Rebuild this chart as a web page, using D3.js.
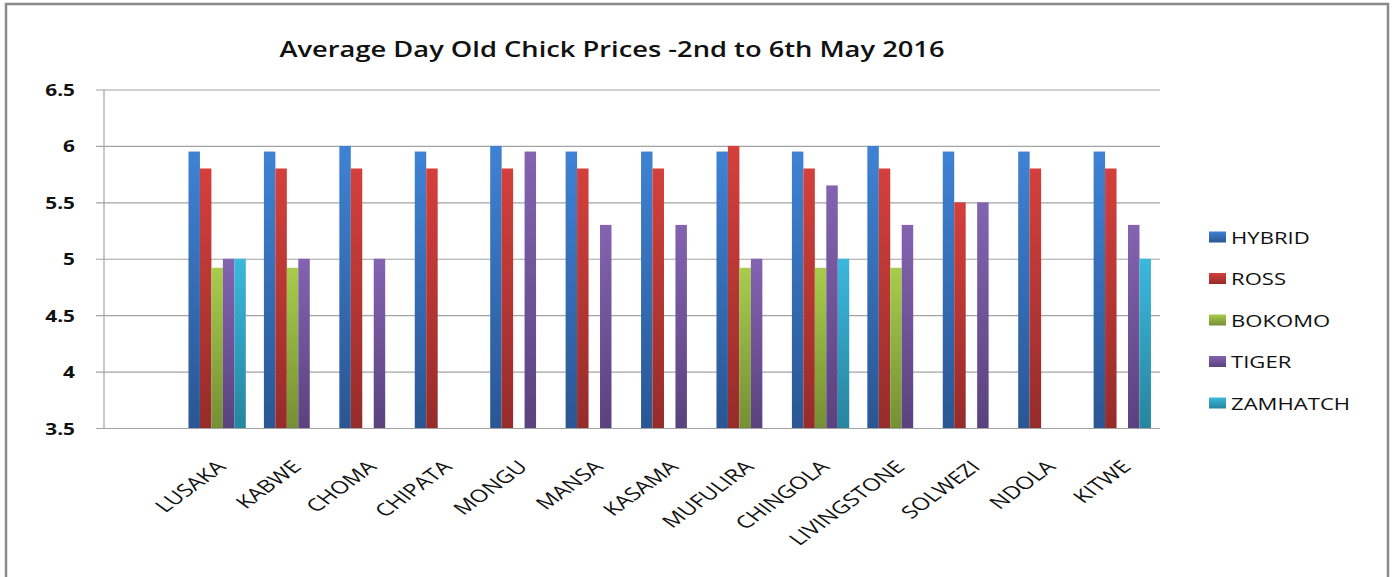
<!DOCTYPE html>
<html>
<head>
<meta charset="utf-8">
<script src="https://cdn.jsdelivr.net/npm/d3@7"></script>
<style>
  body { margin: 0; background: #fff; }
  svg { display: block; }
  text { font-family: "Open Sans", "DejaVu Sans", sans-serif; fill: #111; }
</style>
</head>
<body>
<div id="chart"></div>
<script>
// data: first slot on the category axis is empty in the original chart
var cities = ["", "LUSAKA", "KABWE", "CHOMA", "CHIPATA", "MONGU", "MANSA", "KASAMA",
              "MUFULIRA", "CHINGOLA", "LIVINGSTONE", "SOLWEZI", "NDOLA", "KITWE"];
var seriesNames = ["HYBRID", "ROSS", "BOKOMO", "TIGER", "ZAMHATCH"];

var hybrid   = [null, 5.95, 5.95, 6,    5.95, 6,    5.95, 5.95, 5.95, 5.95, 6,    5.95, 5.95, 5.95];
var ross     = [null, 5.8,  5.8,  5.8,  5.8,  5.8,  5.8,  5.8,  6,    5.8,  5.8,  5.5,  5.8,  5.8];
var bokomo   = [null, 4.92, 4.92, null, null, null, null, null, 4.92, 4.92, 4.92, null, null, null];
var tiger    = [null, 5,    5,    5,    null, 5.95, 5.3,  5.3,  5,    5.65, 5.3,  5.5,  null, 5.3];
var zamhatch = [null, 5,    null, null, null, null, null, null, null, 5,    null, null, null, 5];

var yTicks = [3.5, 4, 4.5, 5, 5.5, 6, 6.5];
var title = "Average Day Old Chick Prices -2nd to 6th May 2016";

var seriesValues = [hybrid, ross, bokomo, tiger, zamhatch];
// [top, bottom] of each bar gradient
var colors = [["#3f82d4", "#2a5693"], ["#d4403c", "#962c2a"], ["#a8cc4c", "#758f35"],
              ["#8463b1", "#5a427e"], ["#3bb8dc", "#26859f"]];

var W = 1395, H = 577;
var plot = {left: 104, right: 1160, top: 89.5, bottom: 428};
var SX = 1.36;   // the original picture is stretched sideways, so is its text

var svg = d3.select("#chart").append("svg")
    .attr("width", W).attr("height", H);

var defs = svg.append("defs");
seriesNames.forEach(function(name, i) {
  var g = defs.append("linearGradient").attr("id", "grad" + i)
      .attr("x1", 0).attr("y1", 0).attr("x2", 0).attr("y2", 1);
  g.append("stop").attr("offset", "0%").attr("stop-color", colors[i][0]);
  g.append("stop").attr("offset", "100%").attr("stop-color", colors[i][1]);
});

// outer frame
svg.append("rect").attr("x", 6).attr("y", 4).attr("width", 1382).attr("height", 620)
   .attr("fill", "#fff").attr("stroke", "#8a8a8a").attr("stroke-width", 2.5);

// stretched text helper
function stretched(sel, x, y, rot, sx) {
  return sel.attr("transform", "translate(" + x + "," + y + ") scale(" + (sx || SX) + ",1)" + (rot ? " rotate(" + rot + ")" : ""));
}

var x0 = d3.scaleBand().domain(cities).range([plot.left, plot.right]).padding(0);
var groupW = x0.bandwidth() * 0.76;
var x1 = d3.scaleBand().domain(seriesNames)
    .range([(x0.bandwidth() - groupW) / 2, (x0.bandwidth() + groupW) / 2]).padding(0);
var y = d3.scaleLinear().domain([3.5, 6.5]).range([plot.bottom, plot.top]);

// gridlines + y axis
var yAxis = d3.axisLeft(y).tickValues(yTicks).tickSize(-(plot.right - plot.left + 8))
    .tickFormat(function(d) { return String(d); }).tickPadding(0);
var ga = svg.append("g").attr("transform", "translate(" + (plot.left - 8) + ",0)").call(yAxis);
ga.select(".domain").remove();
ga.selectAll(".tick line").attr("stroke", "#a3a3a3").attr("stroke-width", 1.2);
ga.selectAll(".tick text").each(function(d) {
  var t = d3.select(this);
  t.attr("x", null).attr("dy", null);
  stretched(t, -21, 6, 0, 1.3);
}).attr("text-anchor", "end").style("font-size", "16px").style("font-weight", "bold").attr("fill", "#111");

svg.append("line").attr("x1", plot.left).attr("x2", plot.left)
   .attr("y1", plot.top).attr("y2", plot.bottom)
   .attr("stroke", "#a3a3a3").attr("stroke-width", 1.2);

// bars
var rows = [];
cities.forEach(function(c, ci) {
  seriesNames.forEach(function(s, si) {
    var v = seriesValues[si][ci];
    if (v != null) rows.push({city: c, series: s, si: si, value: v});
  });
});

svg.append("g").selectAll("rect").data(rows).enter().append("rect")
   .attr("x", function(d) { return x0(d.city) + x1(d.series); })
   .attr("width", x1.bandwidth())
   .attr("y", function(d) { return y(d.value); })
   .attr("height", function(d) { return y(3.5) - y(d.value); })
   .attr("fill", function(d) { return "url(#grad" + d.si + ")"; });

// category labels
svg.append("g").selectAll("text").data(cities.filter(function(c) { return c; })).enter().append("text")
   .attr("text-anchor", "end")
   .style("font-size", "17.5px")
   .text(function(d) { return d; })
   .each(function(d) {
     stretched(d3.select(this), x0(d) + x0.bandwidth() / 2 + 10, 468, -45);
   });

// title
stretched(svg.append("text").attr("text-anchor", "middle")
   .style("font-size", "21px").style("font-weight", "600")
   .text(title), 612, 57, 0, 1.3);

// legend
var leg = svg.append("g").selectAll("g").data(seriesNames).enter().append("g")
   .attr("transform", function(d, i) { return "translate(1209," + (237 + i * 41.5) + ")"; });
leg.append("rect").attr("x", 0).attr("y", -5.5).attr("width", 17).attr("height", 11)
   .attr("fill", function(d, i) { return "url(#grad" + i + ")"; });
leg.append("text").style("font-size", "17px").text(function(d) { return d; })
   .each(function() { stretched(d3.select(this), 22, 6.5, 0, 1.3); });
</script>
</body>
</html>
